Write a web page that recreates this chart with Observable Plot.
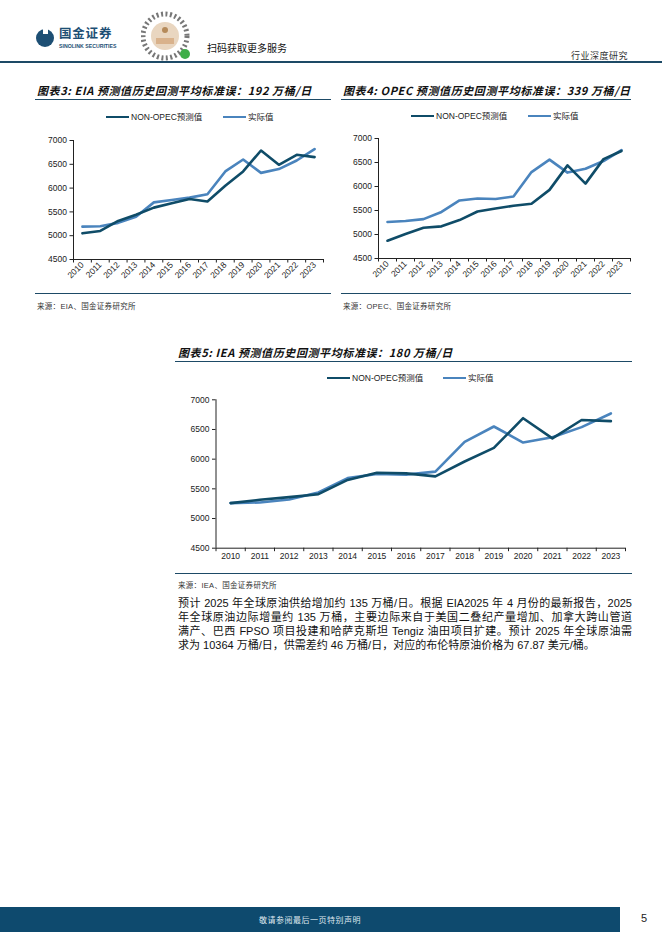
<!DOCTYPE html>
<html><head><meta charset="utf-8">
<script src="https://cdn.jsdelivr.net/npm/d3@7"></script>
<script src="https://cdn.jsdelivr.net/npm/@observablehq/plot@0.6"></script>
<style>
html,body{margin:0;padding:0;background:#fff;}
body{width:662px;height:936px;position:relative;overflow:hidden;font-family:"Liberation Sans","Noto Sans CJK SC",sans-serif;color:#222;}
.abs{position:absolute;}
.title{font-size:11px;font-weight:700;font-style:italic;letter-spacing:0.6px;color:#111;white-space:nowrap;font-family:"Noto Sans CJK SC",sans-serif;}
.hline{position:absolute;height:1.3px;background:#1d4a66;}
.src{font-size:7.5px;color:#333;white-space:nowrap;letter-spacing:0.3px;}
.leg{position:absolute;font-size:8.5px;color:#222;white-space:nowrap;display:flex;align-items:center;font-family:"Liberation Sans","Noto Sans CJK SC",sans-serif;line-height:10px;}
.sw{display:inline-block;width:23px;height:2.6px;margin-right:2px;}
.para{position:absolute;left:178px;width:454px;font-size:11px;line-height:14px;color:#111;font-family:"Liberation Sans","Noto Sans CJK SC",sans-serif;}
.para div{text-align:justify;text-align-last:justify;white-space:nowrap;height:14px;}
.para div.last{text-align-last:left;}
</style></head>
<body>
<!-- header -->
<svg class="abs" style="left:34px;top:27px" width="24" height="24">
  <circle cx="11" cy="11" r="9" fill="#1d4f74"/>
  <rect x="9" y="1" width="5" height="6" fill="#fff"/>
</svg>
<div class="abs" style="left:59px;top:28px;font-size:12.5px;font-weight:700;color:#1d4f74;letter-spacing:0.8px;line-height:13px">国金证券</div>
<div class="abs" style="left:59px;top:43px;font-size:5.2px;font-weight:700;color:#1d4f74;line-height:6px">SINOLINK SECURITIES</div>
<svg class="abs" style="left:141px;top:10px" width="56" height="56">
  <circle cx="24" cy="26" r="22" fill="none" stroke="#777" stroke-width="5" stroke-dasharray="2 2.5"/>
  <circle cx="24" cy="26" r="14" fill="#e9d6c0"/>
  <rect x="15" y="28" width="18" height="6" fill="#d9b28c"/>
  <circle cx="24" cy="20" r="3" fill="#b58a5a"/>
  <circle cx="44" cy="44" r="5" fill="#3fae49"/>
</svg>
<div class="abs" style="left:207px;top:40px;font-size:10px;color:#111;">扫码获取更多服务</div>
<div class="abs" style="left:571px;top:49px;font-size:9px;color:#333;letter-spacing:0.5px">行业深度研究</div>
<div class="hline" style="left:0;top:61px;width:662px;height:1.5px"></div>

<!-- chart 3 -->
<div class="abs title" style="left:37px;top:82px">图表3: EIA 预测值历史回测平均标准误：192 万桶/日</div>
<div class="hline" style="left:35px;top:99px;width:296px"></div>
<div class="leg" style="left:106px;top:112px"><span class="sw" style="background:#0f4c68"></span>NON-OPEC预测值</div>
<div class="leg" style="left:223px;top:112px"><span class="sw" style="background:#4a84bd"></span>实际值</div>
<div id="c1" class="abs" style="left:20px;top:129px"></div>
<div class="hline" style="left:35px;top:293px;width:296px"></div>
<div class="abs src" style="left:37px;top:300px">来源：EIA、国金证券研究所</div>

<!-- chart 4 -->
<div class="abs title" style="left:343px;top:82px">图表4: OPEC 预测值历史回测平均标准误：339 万桶/日</div>
<div class="hline" style="left:341px;top:99px;width:290px"></div>
<div class="leg" style="left:411px;top:111px"><span class="sw" style="background:#0f4c68"></span>NON-OPEC预测值</div>
<div class="leg" style="left:528px;top:111px"><span class="sw" style="background:#4a84bd"></span>实际值</div>
<div id="c2" class="abs" style="left:325px;top:128px"></div>
<div class="hline" style="left:341px;top:293px;width:290px"></div>
<div class="abs src" style="left:343px;top:300px">来源：OPEC、国金证券研究所</div>

<!-- chart 5 -->
<div class="abs title" style="left:178px;top:344px">图表5: IEA 预测值历史回测平均标准误：180 万桶/日</div>
<div class="hline" style="left:175px;top:361px;width:457px"></div>
<div class="leg" style="left:327px;top:373px"><span class="sw" style="background:#0f4c68"></span>NON-OPEC预测值</div>
<div class="leg" style="left:443px;top:373px"><span class="sw" style="background:#4a84bd"></span>实际值</div>
<div id="c3" class="abs" style="left:170px;top:390px"></div>
<div class="hline" style="left:175px;top:573px;width:457px"></div>
<div class="abs src" style="left:178px;top:579px">来源：IEA、国金证券研究所</div>

<div class="para" style="top:596px">
<div>预计 2025 年全球原油供给增加约 135 万桶/日。根据 EIA2025 年 4 月份的最新报告，2025</div>
<div>年全球原油边际增量约 135 万桶，主要边际来自于美国二叠纪产量增加、加拿大跨山管道</div>
<div>满产、巴西 FPSO 项目投建和哈萨克斯坦 Tengiz 油田项目扩建。预计 2025 年全球原油需</div>
<div class="last">求为 10364 万桶/日，供需差约 46 万桶/日，对应的布伦特原油价格为 67.87 美元/桶。</div>
</div>

<!-- footer -->
<div class="abs" style="left:0;top:907px;width:620px;height:25px;background:#0e4a6e"></div>
<div class="abs" style="left:0;top:914px;width:620px;text-align:center;font-size:8px;color:#dfe8ef;letter-spacing:0.5px">敬请参阅最后一页特别声明</div>
<div class="abs" style="left:641px;top:912px;font-size:11px;color:#222">5</div>

<script>
const years = [2010,2011,2012,2013,2014,2015,2016,2017,2018,2019,2020,2021,2022,2023];
const eiaForecast = [5050,5100,5310,5440,5590,5680,5770,5720,6050,6350,6790,6490,6700,6650];
const eiaActual   = [5190,5200,5270,5400,5700,5750,5800,5870,6350,6600,6320,6400,6580,6820];
const opecForecast = [4870,5010,5140,5170,5300,5480,5540,5600,5640,5930,6440,6060,6570,6740];
const opecActual   = [5260,5280,5320,5470,5710,5750,5740,5790,6300,6560,6290,6370,6530,6760];
const ieaForecast = [5260,5315,5360,5410,5650,5770,5760,5710,5960,6190,6690,6350,6660,6640];
const ieaActual   = [5260,5270,5320,5440,5680,5750,5740,5790,6290,6550,6280,6370,6540,6770];
const yTicks = [4500,5000,5500,6000,6500,7000];

const dark = "#0f4c68", light = "#4a84bd";
const bounds = d3.range(2009.5, 2024, 1);

function chart(el, fc, ac, o) {
  const rows = years.map((y,i)=>({year:y, forecast:fc[i], actual:ac[i]}));
  const p = Plot.plot({
    width:o.width, height:o.height,
    marginLeft:o.ml, marginRight:o.mr, marginTop:o.mt, marginBottom:o.mb,
    x:{type:"linear", domain:[2009.5,2023.5]},
    y:{domain:[4500,7000]},
    style:{fontFamily:"'Liberation Sans', Arial, sans-serif", fontSize:o.fs, color:"#222", background:"transparent", overflow:"visible"},
    marks:[
      Plot.axisY({ticks:yTicks, tickSize:3.5, tickPadding:3, tickFormat:d=>String(d), label:null}),
      Plot.axisX({ticks:bounds, tickSize:3.5, tickFormat:()=>"", label:null}),
      Plot.axisX({ticks:years, tickSize:0, tickPadding:o.tp, tickRotate:o.rot, tickFormat:d=>String(d), label:null}),
      Plot.ruleY([4500], {stroke:"#222", strokeWidth:1}),
      Plot.ruleX([2009.5], {stroke:"#222", strokeWidth:1}),
      Plot.line(rows, {x:"year", y:"actual", stroke:light, strokeWidth:2.6}),
      Plot.line(rows, {x:"year", y:"forecast", stroke:dark, strokeWidth:2.6})
    ]
  });
  document.getElementById(el).appendChild(p);
}
chart("c1", eiaForecast, eiaActual, {width:310, height:166, ml:53, mr:7, mt:11, mb:36, fs:"8.5px", tp:4, rot:-45});
chart("c2", opecForecast, opecActual, {width:312, height:166, ml:53, mr:7, mt:10, mb:36, fs:"8.5px", tp:4, rot:-45});
chart("c3", ieaForecast, ieaActual, {width:460, height:178, ml:45.5, mr:5, mt:9.3, mb:20.3, fs:"8.5px", tp:5, rot:0});
</script>
</body></html>
